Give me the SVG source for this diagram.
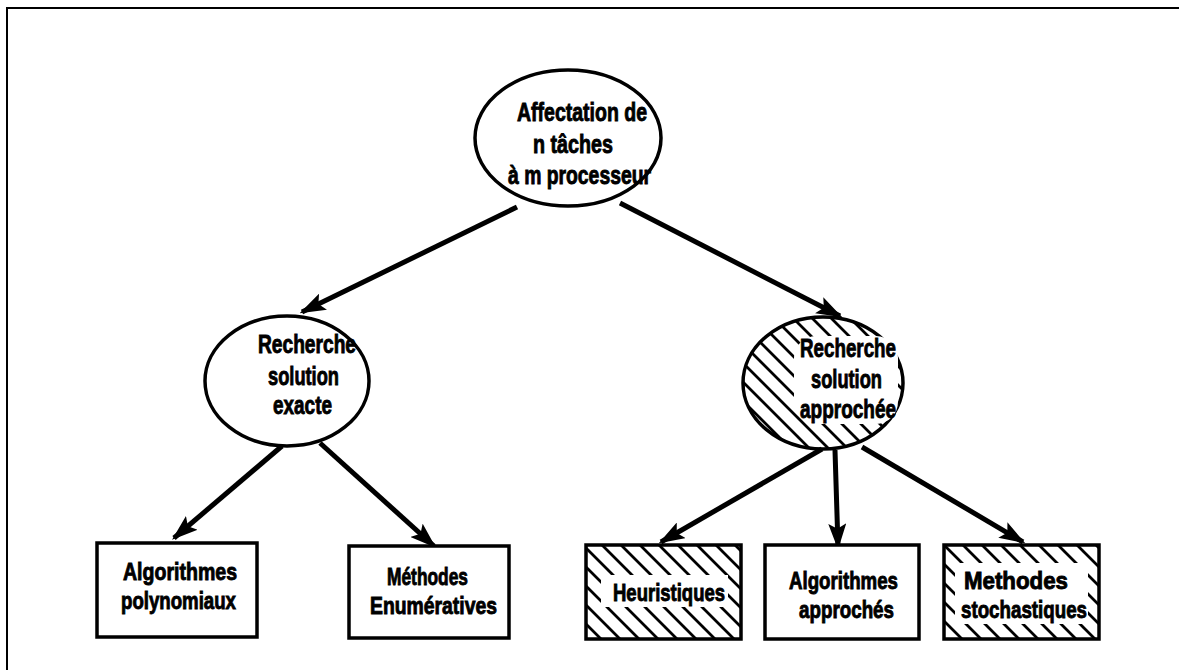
<svg xmlns="http://www.w3.org/2000/svg" width="1179" height="670" viewBox="0 0 1179 670">
<style>
.n{fill:#fff;stroke:#000;stroke-width:3.5}
.hf{fill:url(#h);stroke:#000;stroke-width:3.5}
.w{fill:#fff;stroke:none}
.t{font-family:"Liberation Sans",Arial,sans-serif;font-weight:bold;font-size:26px;fill:#000;stroke:#000;stroke-width:0.9}
.b{font-size:24px}
.c{stroke:#000;stroke-width:5;fill:none}
</style>
<defs>
<pattern id="h" width="19" height="19" patternUnits="userSpaceOnUse">
<path d="M-3,-3 L22,22 M-3,16 L3,22 M16,-3 L22,3" stroke="#000" stroke-width="2.8"/>
</pattern>
<marker id="a" viewBox="0 0 10 10" refX="9" refY="5" markerWidth="5.2" markerHeight="3.6" orient="auto" markerUnits="strokeWidth" preserveAspectRatio="none">
<path d="M0,0 L10,5 L0,10 L2,5 Z" fill="#000"/>
</marker>
</defs>
<rect width="1179" height="670" fill="#fff"/>
<path d="M7,670 V8 H1179" fill="none" stroke="#000" stroke-width="2"/>

<g id="connectors">
<line class="c" x1="517" y1="207" x2="302" y2="312" marker-end="url(#a)"/>
<line class="c" x1="620" y1="203" x2="840" y2="316" marker-end="url(#a)"/>
<line class="c" x1="282" y1="446" x2="174" y2="538" marker-end="url(#a)"/>
<line class="c" x1="320" y1="443" x2="434" y2="546" marker-end="url(#a)"/>
<line class="c" x1="822" y1="449" x2="661" y2="542" marker-end="url(#a)"/>
<line class="c" x1="835" y1="450" x2="838" y2="547" marker-end="url(#a)"/>
<line class="c" x1="862" y1="447" x2="1023" y2="542" marker-end="url(#a)"/>
</g>

<g id="root">
<ellipse class="n" cx="568" cy="138" rx="93" ry="68"/>
<text class="t" x="517" y="121" textLength="130" lengthAdjust="spacingAndGlyphs">Affectation de</text>
<text class="t" x="533" y="153" textLength="80" lengthAdjust="spacingAndGlyphs">n tâches</text>
<text class="t" x="508" y="184" textLength="143" lengthAdjust="spacingAndGlyphs">à m processeur</text>
</g>

<g id="exacte">
<ellipse class="n" cx="287" cy="381" rx="82" ry="65"/>
<text class="t" x="258" y="353" textLength="98" lengthAdjust="spacingAndGlyphs">Recherche</text>
<text class="t" x="268" y="385" textLength="71" lengthAdjust="spacingAndGlyphs">solution</text>
<text class="t" x="273" y="414" textLength="59" lengthAdjust="spacingAndGlyphs">exacte</text>
</g>

<g id="approchee">
<ellipse class="hf" cx="823" cy="383" rx="80" ry="66"/>
<rect class="w" x="794" y="336" width="104" height="88" rx="22"/>
<text class="t" x="800" y="357" textLength="96" lengthAdjust="spacingAndGlyphs">Recherche</text>
<text class="t" x="811" y="388" textLength="71" lengthAdjust="spacingAndGlyphs">solution</text>
<text class="t" x="800" y="418" textLength="96" lengthAdjust="spacingAndGlyphs">approchée</text>
</g>

<g id="polynomiaux">
<rect class="n" x="97" y="543" width="160" height="94"/>
<text class="t b" x="123" y="580" textLength="114" lengthAdjust="spacingAndGlyphs">Algorithmes</text>
<text class="t b" x="121" y="609" textLength="115" lengthAdjust="spacingAndGlyphs">polynomiaux</text>
</g>

<g id="enumeratives">
<rect class="n" x="349" y="546" width="160" height="92"/>
<text class="t b" x="387" y="585" textLength="81" lengthAdjust="spacingAndGlyphs">Méthodes</text>
<text class="t b" x="370" y="614" textLength="127" lengthAdjust="spacingAndGlyphs">Enumératives</text>
</g>

<g id="heuristiques">
<rect class="hf" x="586" y="545" width="155" height="94"/>
<rect class="w" x="601" y="575" width="127" height="32"/>
<text class="t b" x="613" y="601" textLength="112" lengthAdjust="spacingAndGlyphs">Heuristiques</text>
</g>

<g id="algoapproches">
<rect class="n" x="765" y="545" width="154" height="94"/>
<text class="t b" x="789" y="589" textLength="109" lengthAdjust="spacingAndGlyphs">Algorithmes</text>
<text class="t b" x="799" y="618" textLength="95" lengthAdjust="spacingAndGlyphs">approchés</text>
</g>

<g id="stochastiques">
<rect class="hf" x="944" y="545" width="155" height="94"/>
<rect class="w" x="955" y="563" width="133" height="61"/>
<text class="t b" x="964" y="589" textLength="104" lengthAdjust="spacingAndGlyphs">Methodes</text>
<text class="t b" x="961" y="618" textLength="126" lengthAdjust="spacingAndGlyphs">stochastiques</text>
</g>
</svg>
